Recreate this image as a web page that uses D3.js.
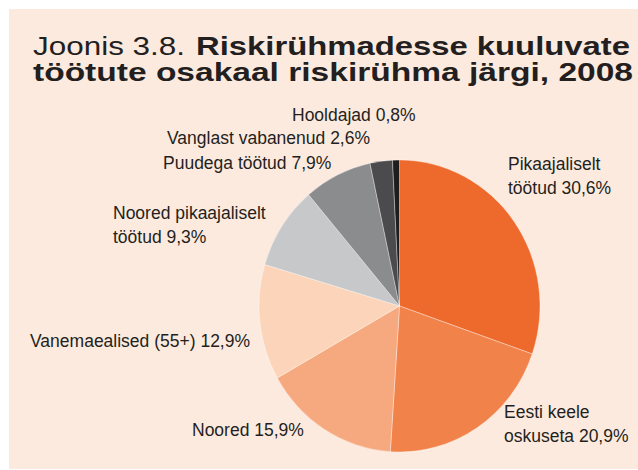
<!DOCTYPE html>
<html><head><meta charset="utf-8">
<script src="https://cdn.jsdelivr.net/npm/d3@7"></script>
<style>html,body{margin:0;padding:0;background:#fff;}svg{display:block;}</style>
</head><body>
<svg id="c" width="638" height="470"></svg>
<script>
const categories = ["Pikaajaliselt töötud","Eesti keele oskuseta","Noored","Vanemaealised (55+)","Noored pikaajaliselt töötud","Puudega töötud","Vanglast vabanenud","Hooldajad"];
const values = [30.6, 20.9, 15.9, 12.9, 9.3, 7.9, 2.6, 0.8];
const colors = ["#EE6A2C","#F1834A","#F6A97E","#FBD4B9","#C7C8CA","#8B8C8E","#4B4B4D","#1F1E1F"];
const labelLines = [
  ["Pikaajaliselt","töötud 30,6%"],
  ["Eesti keele","oskuseta 20,9%"],
  ["Noored 15,9%"],
  ["Vanemaealised (55+) 12,9%"],
  ["Noored pikaajaliselt","töötud 9,3%"],
  ["Puudega töötud 7,9%"],
  ["Vanglast vabanenud 2,6%"],
  ["Hooldajad 0,8%"]
];
const labelPos = [[508,170],[504,418],[192,436],[30,347],[113,219],[163,169],[167,144],[292,121]];

const svg = d3.select("#c");
svg.append("rect").attr("x",9).attr("y",9).attr("width",629).attr("height",460).attr("fill","#FDEADF");

const font = "'Liberation Sans', Arial, Helvetica, sans-serif";
const tc = "#231F20";
svg.append("text").attr("x",33).attr("y",55).attr("font-family",font).attr("font-size",25).attr("fill",tc)
  .attr("textLength",152).attr("lengthAdjust","spacingAndGlyphs").text("Joonis 3.8.");
svg.append("text").attr("x",196).attr("y",55).attr("font-family",font).attr("font-size",25).attr("font-weight","bold").attr("fill",tc)
  .attr("textLength",434).attr("lengthAdjust","spacingAndGlyphs").text("Riskirühmadesse kuuluvate");
svg.append("text").attr("x",33).attr("y",81).attr("font-family",font).attr("font-size",25).attr("font-weight","bold").attr("fill",tc)
  .attr("textLength",600).attr("lengthAdjust","spacingAndGlyphs").text("töötute osakaal riskirühma järgi, 2008");

const cx = 399.5, cy = 306, ry = 146, rx = 140.5;
const pie = d3.pie().sort(null).value(d=>d);
const arc = d3.arc().innerRadius(0).outerRadius(ry);
const g = svg.append("g").attr("transform",`translate(${cx},${cy}) scale(${rx/ry},1)`);
g.selectAll("path").data(pie(values)).join("path")
  .attr("d",arc).attr("fill",(d,i)=>colors[i])
  .attr("stroke","#fff").attr("stroke-opacity",0.6).attr("stroke-width",0.6);

const lg = svg.append("g").attr("font-family",font).attr("font-size",17.5).attr("fill",tc);
labelLines.forEach((lines,i)=>{
  const t = lg.append("text").attr("x",labelPos[i][0]).attr("y",labelPos[i][1]);
  lines.forEach((s,j)=>t.append("tspan").attr("x",labelPos[i][0]).attr("dy",j?24:0).text(s));
});
</script>
</body></html>
